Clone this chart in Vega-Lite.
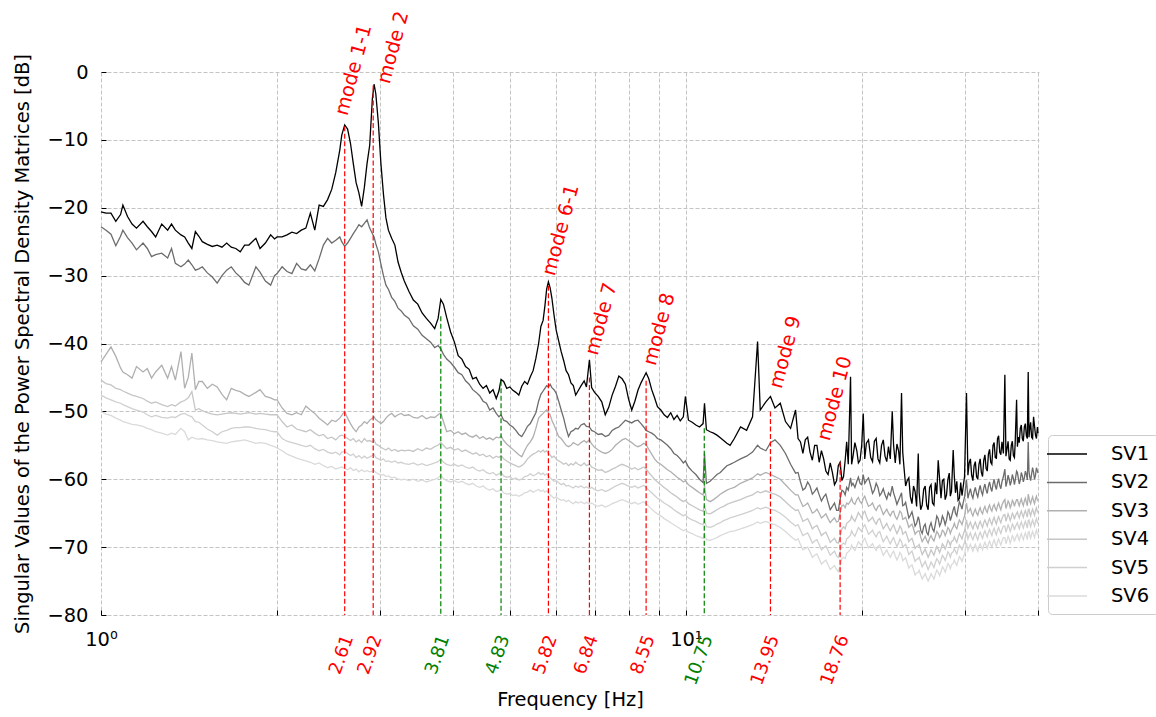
{
"$schema": "https://vega.github.io/schema/vega-lite/v6.json",
"width": 938, "height": 543,
"autosize": {"type": "none"},
"padding": {"left": 101, "top": 72, "right": 117, "bottom": 102},
"background": "white",
"config": {
  "font": "DejaVu Sans",
  "view": {"stroke": null},
  "axis": {"gridColor": "#c4c4c4", "gridDash": [4, 2], "gridWidth": 1, "domain": false, "labelFont": "DejaVu Sans", "labelFontSize": 19.44, "labelColor": "black", "titleFont": "DejaVu Sans", "titleFontSize": 19.44, "titleFontWeight": "normal", "titleColor": "black", "tickColor": "black"}
},
"datasets": {
"sv": [
{"f":1.00,"SV1":-20.6,"SV2":-22.8,"SV3":-42.7,"SV4":-45.4,"SV5":-47.6,"SV6":-50.0},
{"f":1.02,"SV1":-20.8,"SV2":-23.3,"SV3":-41.6,"SV4":-45.9,"SV5":-48.0,"SV6":-50.4},
{"f":1.04,"SV1":-20.8,"SV2":-23.9,"SV3":-40.5,"SV4":-46.1,"SV5":-48.3,"SV6":-50.6},
{"f":1.06,"SV1":-22.0,"SV2":-25.6,"SV3":-41.9,"SV4":-46.6,"SV5":-48.6,"SV6":-51.0},
{"f":1.08,"SV1":-21.0,"SV2":-24.2,"SV3":-43.6,"SV4":-46.8,"SV5":-48.8,"SV6":-51.3},
{"f":1.09,"SV1":-19.6,"SV2":-23.3,"SV3":-44.2,"SV4":-47.0,"SV5":-49.0,"SV6":-51.5},
{"f":1.11,"SV1":-21.3,"SV2":-24.4,"SV3":-44.6,"SV4":-47.3,"SV5":-49.3,"SV6":-51.7},
{"f":1.13,"SV1":-22.4,"SV2":-25.2,"SV3":-45.1,"SV4":-47.6,"SV5":-49.6,"SV6":-51.9},
{"f":1.15,"SV1":-23.0,"SV2":-26.2,"SV3":-43.4,"SV4":-47.8,"SV5":-49.8,"SV6":-52.0},
{"f":1.18,"SV1":-22.0,"SV2":-25.2,"SV3":-44.2,"SV4":-48.1,"SV5":-50.1,"SV6":-52.2},
{"f":1.20,"SV1":-22.8,"SV2":-26.0,"SV3":-43.7,"SV4":-48.5,"SV5":-50.5,"SV6":-52.5},
{"f":1.22,"SV1":-23.5,"SV2":-27.2,"SV3":-45.1,"SV4":-48.8,"SV5":-50.8,"SV6":-52.7},
{"f":1.24,"SV1":-24.3,"SV2":-26.9,"SV3":-44.2,"SV4":-48.6,"SV5":-50.6,"SV6":-53.0},
{"f":1.27,"SV1":-22.4,"SV2":-26.7,"SV3":-43.2,"SV4":-49.0,"SV5":-50.9,"SV6":-53.2},
{"f":1.30,"SV1":-23.3,"SV2":-27.4,"SV3":-45.1,"SV4":-49.3,"SV5":-51.0,"SV6":-53.5},
{"f":1.32,"SV1":-22.4,"SV2":-26.0,"SV3":-43.4,"SV4":-49.0,"SV5":-50.8,"SV6":-53.2},
{"f":1.34,"SV1":-23.3,"SV2":-28.2,"SV3":-45.4,"SV4":-49.2,"SV5":-50.9,"SV6":-53.4},
{"f":1.37,"SV1":-24.0,"SV2":-28.7,"SV3":-41.2,"SV4":-48.6,"SV5":-50.4,"SV6":-52.5},
{"f":1.39,"SV1":-24.3,"SV2":-28.3,"SV3":-46.6,"SV4":-48.4,"SV5":-50.3,"SV6":-53.0},
{"f":1.41,"SV1":-25.2,"SV2":-27.7,"SV3":-45.0,"SV4":-48.0,"SV5":-50.6,"SV6":-54.2},
{"f":1.43,"SV1":-26.0,"SV2":-28.4,"SV3":-41.4,"SV4":-47.1,"SV5":-50.8,"SV6":-53.8},
{"f":1.45,"SV1":-23.5,"SV2":-29.2,"SV3":-46.8,"SV4":-49.8,"SV5":-51.5,"SV6":-54.0},
{"f":1.47,"SV1":-24.2,"SV2":-29.0,"SV3":-45.6,"SV4":-49.6,"SV5":-51.6,"SV6":-54.1},
{"f":1.49,"SV1":-25.0,"SV2":-28.7,"SV3":-45.6,"SV4":-49.9,"SV5":-52.0,"SV6":-54.0},
{"f":1.52,"SV1":-25.4,"SV2":-29.6,"SV3":-46.6,"SV4":-50.2,"SV5":-52.6,"SV6":-54.2},
{"f":1.55,"SV1":-25.7,"SV2":-30.2,"SV3":-46.0,"SV4":-50.4,"SV5":-53.0,"SV6":-54.3},
{"f":1.58,"SV1":-25.5,"SV2":-31.1,"SV3":-46.4,"SV4":-50.5,"SV5":-53.5,"SV6":-54.5},
{"f":1.61,"SV1":-25.8,"SV2":-30.0,"SV3":-47.5,"SV4":-50.4,"SV5":-53.0,"SV6":-54.6},
{"f":1.64,"SV1":-25.2,"SV2":-29.2,"SV3":-48.3,"SV4":-50.3,"SV5":-52.8,"SV6":-54.7},
{"f":1.67,"SV1":-25.8,"SV2":-28.7,"SV3":-46.6,"SV4":-50.2,"SV5":-52.5,"SV6":-54.5},
{"f":1.70,"SV1":-26.0,"SV2":-29.6,"SV3":-46.9,"SV4":-50.3,"SV5":-52.4,"SV6":-54.4},
{"f":1.73,"SV1":-26.5,"SV2":-30.2,"SV3":-47.1,"SV4":-50.4,"SV5":-52.4,"SV6":-54.3},
{"f":1.76,"SV1":-25.5,"SV2":-31.0,"SV3":-47.5,"SV4":-50.3,"SV5":-52.3,"SV6":-54.2},
{"f":1.79,"SV1":-25.5,"SV2":-31.4,"SV3":-47.8,"SV4":-50.2,"SV5":-52.3,"SV6":-54.4},
{"f":1.84,"SV1":-24.5,"SV2":-28.7,"SV3":-47.2,"SV4":-50.4,"SV5":-52.5,"SV6":-54.7},
{"f":1.87,"SV1":-26.0,"SV2":-29.5,"SV3":-46.8,"SV4":-50.3,"SV5":-52.6,"SV6":-54.6},
{"f":1.91,"SV1":-25.2,"SV2":-30.8,"SV3":-47.8,"SV4":-50.4,"SV5":-52.7,"SV6":-54.7},
{"f":1.95,"SV1":-24.0,"SV2":-31.4,"SV3":-48.0,"SV4":-50.5,"SV5":-52.9,"SV6":-55.0},
{"f":1.98,"SV1":-24.6,"SV2":-30.0,"SV3":-48.3,"SV4":-50.5,"SV5":-53.0,"SV6":-55.2},
{"f":2.00,"SV1":-24.3,"SV2":-29.7,"SV3":-48.3,"SV4":-50.5,"SV5":-53.0,"SV6":-55.4},
{"f":2.04,"SV1":-24.3,"SV2":-28.7,"SV3":-49.5,"SV4":-51.5,"SV5":-54.0,"SV6":-55.8},
{"f":2.08,"SV1":-24.0,"SV2":-29.4,"SV3":-50.3,"SV4":-52.3,"SV5":-54.4,"SV6":-56.3},
{"f":2.12,"SV1":-23.6,"SV2":-29.7,"SV3":-50.5,"SV4":-52.0,"SV5":-54.6,"SV6":-56.6},
{"f":2.16,"SV1":-23.8,"SV2":-28.2,"SV3":-50.2,"SV4":-52.6,"SV5":-54.8,"SV6":-56.9},
{"f":2.20,"SV1":-23.3,"SV2":-29.0,"SV3":-50.5,"SV4":-52.8,"SV5":-55.0,"SV6":-57.1},
{"f":2.24,"SV1":-23.0,"SV2":-29.2,"SV3":-49.2,"SV4":-53.0,"SV5":-55.2,"SV6":-57.3},
{"f":2.28,"SV1":-20.8,"SV2":-28.4,"SV3":-49.8,"SV4":-52.7,"SV5":-55.0,"SV6":-57.5},
{"f":2.32,"SV1":-23.3,"SV2":-29.3,"SV3":-50.3,"SV4":-53.2,"SV5":-55.5,"SV6":-57.8},
{"f":2.36,"SV1":-19.6,"SV2":-27.5,"SV3":-51.0,"SV4":-53.6,"SV5":-55.8,"SV6":-57.6},
{"f":2.40,"SV1":-19.8,"SV2":-25.5,"SV3":-51.5,"SV4":-53.4,"SV5":-55.6,"SV6":-58.0},
{"f":2.44,"SV1":-18.8,"SV2":-24.5,"SV3":-52.0,"SV4":-54.0,"SV5":-56.0,"SV6":-58.3},
{"f":2.48,"SV1":-17.3,"SV2":-25.2,"SV3":-51.3,"SV4":-53.8,"SV5":-56.2,"SV6":-58.1},
{"f":2.52,"SV1":-14.8,"SV2":-24.8,"SV3":-51.5,"SV4":-54.2,"SV5":-56.0,"SV6":-58.5},
{"f":2.56,"SV1":-11.5,"SV2":-24.3,"SV3":-51.0,"SV4":-53.6,"SV5":-56.4,"SV6":-58.3},
{"f":2.58,"SV1":-9.3,"SV2":-25.0,"SV3":-50.6,"SV4":-53.5,"SV5":-56.0,"SV6":-58.2},
{"f":2.61,"SV1":-7.8,"SV2":-25.7,"SV3":-50.0,"SV4":-53.7,"SV5":-55.9,"SV6":-58.4},
{"f":2.64,"SV1":-8.4,"SV2":-25.2,"SV3":-51.0,"SV4":-54.0,"SV5":-56.2,"SV6":-58.6},
{"f":2.67,"SV1":-10.5,"SV2":-24.5,"SV3":-51.8,"SV4":-54.3,"SV5":-56.5,"SV6":-58.3},
{"f":2.70,"SV1":-13.5,"SV2":-23.8,"SV3":-52.5,"SV4":-54.0,"SV5":-56.3,"SV6":-58.7},
{"f":2.73,"SV1":-16.3,"SV2":-23.2,"SV3":-53.0,"SV4":-54.5,"SV5":-56.8,"SV6":-58.5},
{"f":2.76,"SV1":-17.8,"SV2":-22.5,"SV3":-52.3,"SV4":-54.2,"SV5":-56.5,"SV6":-58.9},
{"f":2.79,"SV1":-19.8,"SV2":-22.8,"SV3":-52.0,"SV4":-54.6,"SV5":-56.9,"SV6":-58.6},
{"f":2.82,"SV1":-17.0,"SV2":-22.3,"SV3":-51.5,"SV4":-54.0,"SV5":-56.6,"SV6":-58.9},
{"f":2.85,"SV1":-13.5,"SV2":-21.8,"SV3":-51.8,"SV4":-54.4,"SV5":-56.9,"SV6":-58.7},
{"f":2.88,"SV1":-10.8,"SV2":-23.0,"SV3":-51.3,"SV4":-54.3,"SV5":-56.7,"SV6":-58.9},
{"f":2.91,"SV1":-4.0,"SV2":-23.8,"SV3":-51.0,"SV4":-54.5,"SV5":-56.5,"SV6":-58.8},
{"f":2.93,"SV1":-1.8,"SV2":-24.3,"SV3":-50.8,"SV4":-54.2,"SV5":-56.3,"SV6":-58.7},
{"f":2.95,"SV1":-3.2,"SV2":-25.3,"SV3":-51.2,"SV4":-54.8,"SV5":-56.8,"SV6":-59.0},
{"f":2.98,"SV1":-7.5,"SV2":-26.5,"SV3":-51.5,"SV4":-55.0,"SV5":-57.0,"SV6":-59.2},
{"f":3.01,"SV1":-13.5,"SV2":-28.3,"SV3":-51.8,"SV4":-55.3,"SV5":-57.2,"SV6":-59.4},
{"f":3.04,"SV1":-18.0,"SV2":-30.0,"SV3":-51.5,"SV4":-55.5,"SV5":-57.0,"SV6":-59.3},
{"f":3.07,"SV1":-21.5,"SV2":-31.4,"SV3":-51.0,"SV4":-55.7,"SV5":-57.4,"SV6":-59.6},
{"f":3.10,"SV1":-23.3,"SV2":-32.0,"SV3":-50.6,"SV4":-55.4,"SV5":-57.3,"SV6":-59.5},
{"f":3.14,"SV1":-24.5,"SV2":-33.2,"SV3":-50.3,"SV4":-55.8,"SV5":-57.5,"SV6":-59.8},
{"f":3.18,"SV1":-25.5,"SV2":-33.8,"SV3":-50.8,"SV4":-55.6,"SV5":-57.3,"SV6":-59.7},
{"f":3.22,"SV1":-28.0,"SV2":-34.8,"SV3":-50.5,"SV4":-55.9,"SV5":-57.6,"SV6":-60.0},
{"f":3.26,"SV1":-29.5,"SV2":-35.2,"SV3":-50.3,"SV4":-55.7,"SV5":-57.5,"SV6":-60.1},
{"f":3.30,"SV1":-30.8,"SV2":-35.8,"SV3":-50.6,"SV4":-55.8,"SV5":-57.7,"SV6":-60.0},
{"f":3.36,"SV1":-32.3,"SV2":-36.3,"SV3":-50.5,"SV4":-55.7,"SV5":-57.8,"SV6":-60.2},
{"f":3.42,"SV1":-33.6,"SV2":-37.4,"SV3":-50.9,"SV4":-55.9,"SV5":-57.6,"SV6":-60.0},
{"f":3.48,"SV1":-34.2,"SV2":-37.9,"SV3":-51.0,"SV4":-55.5,"SV5":-57.9,"SV6":-60.3},
{"f":3.54,"SV1":-35.5,"SV2":-38.8,"SV3":-50.6,"SV4":-55.8,"SV5":-57.7,"SV6":-60.1},
{"f":3.60,"SV1":-36.3,"SV2":-39.3,"SV3":-51.1,"SV4":-55.4,"SV5":-58.0,"SV6":-60.4},
{"f":3.66,"SV1":-37.0,"SV2":-39.8,"SV3":-50.8,"SV4":-55.6,"SV5":-57.8,"SV6":-60.2},
{"f":3.72,"SV1":-37.8,"SV2":-40.6,"SV3":-50.9,"SV4":-55.2,"SV5":-57.6,"SV6":-60.0},
{"f":3.77,"SV1":-36.3,"SV2":-40.3,"SV3":-50.5,"SV4":-55.0,"SV5":-57.4,"SV6":-59.8},
{"f":3.81,"SV1":-33.5,"SV2":-40.8,"SV3":-50.2,"SV4":-54.6,"SV5":-57.0,"SV6":-59.4},
{"f":3.85,"SV1":-34.2,"SV2":-41.6,"SV3":-51.5,"SV4":-55.0,"SV5":-57.5,"SV6":-59.9},
{"f":3.90,"SV1":-36.2,"SV2":-42.3,"SV3":-53.0,"SV4":-55.5,"SV5":-57.8,"SV6":-60.2},
{"f":3.96,"SV1":-38.3,"SV2":-42.8,"SV3":-52.8,"SV4":-55.3,"SV5":-58.0,"SV6":-60.4},
{"f":4.02,"SV1":-39.8,"SV2":-43.5,"SV3":-53.3,"SV4":-55.7,"SV5":-57.8,"SV6":-60.2},
{"f":4.08,"SV1":-41.8,"SV2":-44.3,"SV3":-53.0,"SV4":-55.5,"SV5":-58.1,"SV6":-60.5},
{"f":4.14,"SV1":-42.3,"SV2":-44.6,"SV3":-53.4,"SV4":-55.9,"SV5":-57.9,"SV6":-60.3},
{"f":4.20,"SV1":-43.4,"SV2":-45.5,"SV3":-53.2,"SV4":-55.7,"SV5":-58.2,"SV6":-60.6},
{"f":4.26,"SV1":-43.8,"SV2":-46.0,"SV3":-53.6,"SV4":-56.0,"SV5":-58.4,"SV6":-60.8},
{"f":4.32,"SV1":-45.2,"SV2":-46.8,"SV3":-53.8,"SV4":-56.3,"SV5":-58.2,"SV6":-60.6},
{"f":4.38,"SV1":-45.0,"SV2":-47.2,"SV3":-53.5,"SV4":-56.1,"SV5":-58.6,"SV6":-61.0},
{"f":4.44,"SV1":-46.0,"SV2":-47.7,"SV3":-54.0,"SV4":-56.5,"SV5":-58.8,"SV6":-61.2},
{"f":4.50,"SV1":-46.6,"SV2":-48.5,"SV3":-53.7,"SV4":-56.3,"SV5":-58.6,"SV6":-61.0},
{"f":4.56,"SV1":-46.2,"SV2":-48.8,"SV3":-54.1,"SV4":-56.7,"SV5":-59.0,"SV6":-61.4},
{"f":4.62,"SV1":-47.3,"SV2":-49.8,"SV3":-53.9,"SV4":-56.5,"SV5":-59.2,"SV6":-61.6},
{"f":4.68,"SV1":-46.8,"SV2":-49.5,"SV3":-54.2,"SV4":-56.9,"SV5":-59.0,"SV6":-61.4},
{"f":4.74,"SV1":-48.1,"SV2":-50.3,"SV3":-53.8,"SV4":-56.6,"SV5":-59.4,"SV6":-61.8},
{"f":4.79,"SV1":-47.0,"SV2":-50.8,"SV3":-53.9,"SV4":-56.8,"SV5":-59.2,"SV6":-61.7},
{"f":4.83,"SV1":-45.3,"SV2":-50.5,"SV3":-53.6,"SV4":-56.5,"SV5":-59.0,"SV6":-61.5},
{"f":4.88,"SV1":-45.6,"SV2":-51.3,"SV3":-54.3,"SV4":-57.0,"SV5":-59.5,"SV6":-62.0},
{"f":4.94,"SV1":-46.6,"SV2":-51.5,"SV3":-54.8,"SV4":-57.3,"SV5":-59.7,"SV6":-62.2},
{"f":5.00,"SV1":-46.4,"SV2":-52.0,"SV3":-55.2,"SV4":-57.6,"SV5":-59.6,"SV6":-62.1},
{"f":5.06,"SV1":-46.9,"SV2":-52.3,"SV3":-55.6,"SV4":-57.8,"SV5":-60.0,"SV6":-62.4},
{"f":5.12,"SV1":-47.2,"SV2":-52.8,"SV3":-56.0,"SV4":-58.0,"SV5":-59.8,"SV6":-62.3},
{"f":5.18,"SV1":-47.6,"SV2":-53.4,"SV3":-56.4,"SV4":-58.2,"SV5":-60.1,"SV6":-62.5},
{"f":5.24,"SV1":-46.3,"SV2":-53.7,"SV3":-56.7,"SV4":-58.0,"SV5":-60.0,"SV6":-62.3},
{"f":5.30,"SV1":-45.6,"SV2":-53.0,"SV3":-55.8,"SV4":-57.6,"SV5":-59.6,"SV6":-62.0},
{"f":5.36,"SV1":-46.0,"SV2":-52.2,"SV3":-55.0,"SV4":-57.0,"SV5":-59.5,"SV6":-61.9},
{"f":5.42,"SV1":-44.9,"SV2":-51.8,"SV3":-54.5,"SV4":-56.6,"SV5":-59.2,"SV6":-61.6},
{"f":5.48,"SV1":-44.0,"SV2":-51.0,"SV3":-53.8,"SV4":-56.3,"SV5":-59.5,"SV6":-61.9},
{"f":5.54,"SV1":-42.2,"SV2":-50.2,"SV3":-52.5,"SV4":-56.1,"SV5":-59.3,"SV6":-61.7},
{"f":5.60,"SV1":-40.0,"SV2":-48.5,"SV3":-51.0,"SV4":-55.8,"SV5":-59.0,"SV6":-61.5},
{"f":5.65,"SV1":-37.5,"SV2":-47.5,"SV3":-50.6,"SV4":-56.0,"SV5":-59.3,"SV6":-61.8},
{"f":5.70,"SV1":-36.6,"SV2":-47.0,"SV3":-50.3,"SV4":-55.7,"SV5":-59.1,"SV6":-61.6},
{"f":5.74,"SV1":-34.5,"SV2":-46.6,"SV3":-50.0,"SV4":-56.0,"SV5":-59.4,"SV6":-61.9},
{"f":5.78,"SV1":-32.0,"SV2":-46.2,"SV3":-49.8,"SV4":-55.8,"SV5":-59.2,"SV6":-61.7},
{"f":5.82,"SV1":-30.9,"SV2":-46.4,"SV3":-50.2,"SV4":-56.2,"SV5":-59.5,"SV6":-62.0},
{"f":5.86,"SV1":-31.8,"SV2":-46.0,"SV3":-50.5,"SV4":-56.4,"SV5":-59.8,"SV6":-62.3},
{"f":5.90,"SV1":-33.3,"SV2":-46.5,"SV3":-51.3,"SV4":-56.8,"SV5":-60.0,"SV6":-62.5},
{"f":5.95,"SV1":-35.8,"SV2":-46.8,"SV3":-52.0,"SV4":-56.6,"SV5":-60.3,"SV6":-62.8},
{"f":6.00,"SV1":-38.0,"SV2":-47.3,"SV3":-52.8,"SV4":-57.0,"SV5":-60.2,"SV6":-62.6},
{"f":6.06,"SV1":-39.6,"SV2":-48.5,"SV3":-53.7,"SV4":-57.3,"SV5":-60.5,"SV6":-62.9},
{"f":6.12,"SV1":-41.2,"SV2":-49.8,"SV3":-54.0,"SV4":-57.5,"SV5":-60.8,"SV6":-63.1},
{"f":6.18,"SV1":-42.5,"SV2":-51.0,"SV3":-54.5,"SV4":-57.8,"SV5":-60.6,"SV6":-63.0},
{"f":6.24,"SV1":-44.0,"SV2":-52.5,"SV3":-55.0,"SV4":-57.6,"SV5":-61.0,"SV6":-63.3},
{"f":6.30,"SV1":-44.6,"SV2":-53.7,"SV3":-55.2,"SV4":-58.0,"SV5":-60.9,"SV6":-63.1},
{"f":6.36,"SV1":-45.8,"SV2":-53.0,"SV3":-55.0,"SV4":-57.7,"SV5":-61.1,"SV6":-63.4},
{"f":6.42,"SV1":-46.2,"SV2":-52.8,"SV3":-54.6,"SV4":-57.9,"SV5":-61.3,"SV6":-63.6},
{"f":6.48,"SV1":-47.6,"SV2":-52.5,"SV3":-54.8,"SV4":-57.5,"SV5":-61.0,"SV6":-63.3},
{"f":6.54,"SV1":-47.0,"SV2":-52.6,"SV3":-55.0,"SV4":-57.8,"SV5":-61.2,"SV6":-63.5},
{"f":6.62,"SV1":-46.2,"SV2":-52.0,"SV3":-54.6,"SV4":-58.0,"SV5":-61.0,"SV6":-63.3},
{"f":6.70,"SV1":-45.5,"SV2":-51.8,"SV3":-54.3,"SV4":-57.6,"SV5":-61.3,"SV6":-63.6},
{"f":6.76,"SV1":-46.4,"SV2":-52.2,"SV3":-54.6,"SV4":-58.0,"SV5":-61.1,"SV6":-63.4},
{"f":6.84,"SV1":-42.4,"SV2":-52.3,"SV3":-54.2,"SV4":-57.8,"SV5":-61.4,"SV6":-63.7},
{"f":6.90,"SV1":-46.5,"SV2":-52.8,"SV3":-54.8,"SV4":-58.2,"SV5":-61.2,"SV6":-63.5},
{"f":6.98,"SV1":-47.2,"SV2":-53.0,"SV3":-55.3,"SV4":-58.4,"SV5":-61.5,"SV6":-63.8},
{"f":7.08,"SV1":-47.8,"SV2":-53.4,"SV3":-55.7,"SV4":-58.7,"SV5":-61.7,"SV6":-64.0},
{"f":7.18,"SV1":-48.6,"SV2":-53.3,"SV3":-56.0,"SV4":-58.6,"SV5":-61.5,"SV6":-63.8},
{"f":7.28,"SV1":-50.5,"SV2":-53.7,"SV3":-56.2,"SV4":-59.0,"SV5":-61.8,"SV6":-64.1},
{"f":7.38,"SV1":-49.4,"SV2":-53.5,"SV3":-56.0,"SV4":-58.8,"SV5":-61.6,"SV6":-63.9},
{"f":7.48,"SV1":-47.6,"SV2":-52.8,"SV3":-55.6,"SV4":-58.5,"SV5":-61.3,"SV6":-63.6},
{"f":7.58,"SV1":-46.3,"SV2":-52.5,"SV3":-55.0,"SV4":-58.3,"SV5":-61.0,"SV6":-63.4},
{"f":7.68,"SV1":-44.8,"SV2":-52.3,"SV3":-54.6,"SV4":-58.0,"SV5":-60.8,"SV6":-63.2},
{"f":7.78,"SV1":-45.2,"SV2":-51.8,"SV3":-54.2,"SV4":-57.8,"SV5":-60.6,"SV6":-63.0},
{"f":7.88,"SV1":-46.0,"SV2":-51.3,"SV3":-54.0,"SV4":-58.0,"SV5":-60.8,"SV6":-63.2},
{"f":7.98,"SV1":-48.2,"SV2":-51.5,"SV3":-54.3,"SV4":-58.2,"SV5":-61.0,"SV6":-63.4},
{"f":8.08,"SV1":-49.8,"SV2":-51.7,"SV3":-54.6,"SV4":-58.5,"SV5":-61.2,"SV6":-63.6},
{"f":8.18,"SV1":-48.5,"SV2":-51.4,"SV3":-55.0,"SV4":-58.3,"SV5":-61.0,"SV6":-63.4},
{"f":8.28,"SV1":-46.9,"SV2":-51.3,"SV3":-55.2,"SV4":-58.6,"SV5":-61.3,"SV6":-63.7},
{"f":8.38,"SV1":-45.8,"SV2":-51.8,"SV3":-55.0,"SV4":-58.4,"SV5":-61.1,"SV6":-63.5},
{"f":8.47,"SV1":-45.0,"SV2":-52.3,"SV3":-54.7,"SV4":-58.2,"SV5":-60.9,"SV6":-63.3},
{"f":8.55,"SV1":-44.3,"SV2":-52.8,"SV3":-54.9,"SV4":-58.5,"SV5":-61.2,"SV6":-63.6},
{"f":8.64,"SV1":-45.2,"SV2":-53.0,"SV3":-55.6,"SV4":-59.0,"SV5":-61.6,"SV6":-64.0},
{"f":8.74,"SV1":-46.8,"SV2":-53.2,"SV3":-56.3,"SV4":-59.5,"SV5":-62.0,"SV6":-64.4},
{"f":8.84,"SV1":-48.0,"SV2":-53.5,"SV3":-57.0,"SV4":-60.0,"SV5":-62.4,"SV6":-64.8},
{"f":8.94,"SV1":-49.3,"SV2":-54.0,"SV3":-57.5,"SV4":-60.4,"SV5":-62.8,"SV6":-65.1},
{"f":9.06,"SV1":-49.8,"SV2":-54.2,"SV3":-57.8,"SV4":-60.8,"SV5":-63.1,"SV6":-65.4},
{"f":9.18,"SV1":-50.5,"SV2":-54.6,"SV3":-58.2,"SV4":-61.2,"SV5":-63.5,"SV6":-65.8},
{"f":9.30,"SV1":-50.9,"SV2":-55.0,"SV3":-58.6,"SV4":-61.6,"SV5":-63.8,"SV6":-66.1},
{"f":9.42,"SV1":-50.2,"SV2":-55.5,"SV3":-58.9,"SV4":-62.0,"SV5":-64.1,"SV6":-66.4},
{"f":9.54,"SV1":-51.2,"SV2":-56.2,"SV3":-59.3,"SV4":-62.3,"SV5":-64.5,"SV6":-66.7},
{"f":9.66,"SV1":-50.6,"SV2":-56.5,"SV3":-59.7,"SV4":-62.6,"SV5":-64.8,"SV6":-67.0},
{"f":9.78,"SV1":-51.4,"SV2":-57.0,"SV3":-60.0,"SV4":-63.0,"SV5":-65.1,"SV6":-67.3},
{"f":9.90,"SV1":-50.8,"SV2":-57.6,"SV3":-60.4,"SV4":-63.3,"SV5":-65.4,"SV6":-67.6},
{"f":9.98,"SV1":-47.8,"SV2":-57.3,"SV3":-60.2,"SV4":-63.1,"SV5":-65.2,"SV6":-67.4},
{"f":10.10,"SV1":-51.3,"SV2":-58.2,"SV3":-60.8,"SV4":-63.6,"SV5":-65.7,"SV6":-67.8},
{"f":10.25,"SV1":-51.6,"SV2":-58.8,"SV3":-61.2,"SV4":-63.9,"SV5":-66.0,"SV6":-68.0},
{"f":10.40,"SV1":-52.0,"SV2":-59.3,"SV3":-61.6,"SV4":-64.2,"SV5":-66.2,"SV6":-68.3},
{"f":10.55,"SV1":-52.3,"SV2":-60.0,"SV3":-62.0,"SV4":-64.5,"SV5":-66.5,"SV6":-68.5},
{"f":10.70,"SV1":-51.8,"SV2":-60.5,"SV3":-62.3,"SV4":-64.7,"SV5":-66.7,"SV6":-68.7},
{"f":10.76,"SV1":-48.8,"SV2":-56.2,"SV3":-61.0,"SV4":-63.8,"SV5":-66.0,"SV6":-68.0},
{"f":10.84,"SV1":-52.7,"SV2":-60.6,"SV3":-63.0,"SV4":-65.0,"SV5":-67.0,"SV6":-68.9},
{"f":11.00,"SV1":-53.0,"SV2":-60.3,"SV3":-63.3,"SV4":-65.1,"SV5":-67.1,"SV6":-69.0},
{"f":11.15,"SV1":-53.2,"SV2":-59.8,"SV3":-63.0,"SV4":-64.8,"SV5":-66.9,"SV6":-68.8},
{"f":11.30,"SV1":-53.5,"SV2":-59.3,"SV3":-62.6,"SV4":-64.5,"SV5":-66.6,"SV6":-68.6},
{"f":11.45,"SV1":-53.9,"SV2":-59.0,"SV3":-62.2,"SV4":-64.2,"SV5":-66.4,"SV6":-68.3},
{"f":11.60,"SV1":-54.3,"SV2":-58.5,"SV3":-61.9,"SV4":-64.0,"SV5":-66.1,"SV6":-68.1},
{"f":11.75,"SV1":-54.7,"SV2":-58.0,"SV3":-61.6,"SV4":-63.7,"SV5":-65.9,"SV6":-67.9},
{"f":11.90,"SV1":-55.0,"SV2":-57.8,"SV3":-61.4,"SV4":-63.5,"SV5":-65.7,"SV6":-67.7},
{"f":12.1,"SV1":-54.0,"SV2":-57.5,"SV3":-61.2,"SV4":-63.3,"SV5":-65.5,"SV6":-67.6},
{"f":12.4,"SV1":-52.3,"SV2":-57.0,"SV3":-60.6,"SV4":-63.0,"SV5":-65.2,"SV6":-67.3},
{"f":12.7,"SV1":-52.8,"SV2":-56.6,"SV3":-60.2,"SV4":-62.6,"SV5":-64.9,"SV6":-67.0},
{"f":13.0,"SV1":-50.8,"SV2":-56.0,"SV3":-59.8,"SV4":-62.3,"SV5":-64.6,"SV6":-66.7},
{"f":13.26,"SV1":-39.7,"SV2":-55.0,"SV3":-59.2,"SV4":-61.8,"SV5":-64.2,"SV6":-66.3},
{"f":13.4,"SV1":-49.8,"SV2":-55.4,"SV3":-59.4,"SV4":-62.0,"SV5":-64.4,"SV6":-66.5},
{"f":13.7,"SV1":-48.6,"SV2":-55.8,"SV3":-59.0,"SV4":-61.7,"SV5":-64.1,"SV6":-66.2},
{"f":13.95,"SV1":-47.8,"SV2":-54.6,"SV3":-59.3,"SV4":-62.0,"SV5":-64.4,"SV6":-66.5},
{"f":14.2,"SV1":-49.5,"SV2":-54.2,"SV3":-59.6,"SV4":-62.2,"SV5":-64.6,"SV6":-66.7},
{"f":14.5,"SV1":-48.8,"SV2":-55.0,"SV3":-60.0,"SV4":-62.6,"SV5":-65.0,"SV6":-67.1},
{"f":14.8,"SV1":-51.5,"SV2":-56.2,"SV3":-60.8,"SV4":-63.3,"SV5":-65.6,"SV6":-67.7},
{"f":15.1,"SV1":-52.5,"SV2":-57.8,"SV3":-61.6,"SV4":-64.0,"SV5":-66.3,"SV6":-68.4},
{"f":15.4,"SV1":-49.8,"SV2":-59.1,"SV3":-62.3,"SV4":-64.6,"SV5":-66.9,"SV6":-69.0},
{"f":15.7,"SV1":-54.5,"SV2":-60.4,"SV3":-63.2,"SV4":-65.3,"SV5":-67.5,"SV6":-69.6},
{"f":16.0,"SV1":-54.2,"SV2":-61.3,"SV3":-63.8,"SV4":-66.0,"SV5":-68.1,"SV6":-70.2},
{"f":16.3,"SV1":-56.0,"SV2":-61.0,"SV3":-64.2,"SV4":-66.5,"SV5":-68.6,"SV6":-70.7},
{"f":16.6,"SV1":-55.0,"SV2":-61.8,"SV3":-64.8,"SV4":-67.0,"SV5":-69.1,"SV6":-71.2},
{"f":16.9,"SV1":-57.5,"SV2":-62.3,"SV3":-65.0,"SV4":-67.5,"SV5":-69.6,"SV6":-71.7},
{"f":17.2,"SV1":-57.0,"SV2":-62.6,"SV3":-65.4,"SV4":-68.0,"SV5":-70.1,"SV6":-72.2},
{"f":17.5,"SV1":-59.3,"SV2":-63.4,"SV3":-65.8,"SV4":-68.5,"SV5":-70.5,"SV6":-72.6},
{"f":17.8,"SV1":-59.0,"SV2":-64.0,"SV3":-66.0,"SV4":-69.0,"SV5":-70.9,"SV6":-73.0},
{"f":18.1,"SV1":-60.2,"SV2":-64.6,"SV3":-66.3,"SV4":-69.3,"SV5":-71.3,"SV6":-73.3},
{"f":18.35,"SV1":-57.5,"SV2":-63.0,"SV3":-65.0,"SV4":-68.5,"SV5":-70.7,"SV6":-72.8},
{"f":18.6,"SV1":-59.6,"SV2":-61.8,"SV3":-63.8,"SV4":-67.0,"SV5":-69.4,"SV6":-71.5},
{"f":18.83,"SV1":-54.5,"SV2":-61.2,"SV3":-63.5,"SV4":-66.5,"SV5":-68.8,"SV6":-70.9},
{"f":18.95,"SV1":-57.8,"SV2":-61.6,"SV3":-63.7,"SV4":-66.3,"SV5":-68.6,"SV6":-70.7},
{"f":19.12,"SV1":-44.9,"SV2":-59.8,"SV3":-63.2,"SV4":-66.0,"SV5":-68.2,"SV6":-70.3},
{"f":19.3,"SV1":-56.7,"SV2":-60.6,"SV3":-63.4,"SV4":-65.8,"SV5":-68.0,"SV6":-70.1},
{"f":19.6,"SV1":-55.8,"SV2":-60.3,"SV3":-63.0,"SV4":-65.5,"SV5":-67.7,"SV6":-69.8},
{"f":19.85,"SV1":-57.2,"SV2":-60.6,"SV3":-63.3,"SV4":-65.3,"SV5":-67.4,"SV6":-69.5},
{"f":20.1,"SV1":-50.3,"SV2":-59.3,"SV3":-62.8,"SV4":-65.0,"SV5":-67.0,"SV6":-69.0},
{"f":20.35,"SV1":-54.7,"SV2":-60.2,"SV3":-63.2,"SV4":-65.4,"SV5":-67.3,"SV6":-69.3},
{"f":20.7,"SV1":-56.8,"SV2":-61.0,"SV3":-63.8,"SV4":-65.9,"SV5":-67.8,"SV6":-69.8},
{"f":21.0,"SV1":-54.4,"SV2":-61.6,"SV3":-64.2,"SV4":-66.2,"SV5":-68.1,"SV6":-70.1},
{"f":21.3,"SV1":-57.0,"SV2":-61.2,"SV3":-64.0,"SV4":-66.0,"SV5":-67.9,"SV6":-69.9},
{"f":21.6,"SV1":-55.0,"SV2":-62.0,"SV3":-64.5,"SV4":-66.6,"SV5":-68.5,"SV6":-70.5},
{"f":21.9,"SV1":-56.6,"SV2":-62.3,"SV3":-64.8,"SV4":-66.9,"SV5":-68.8,"SV6":-70.8},
{"f":22.2,"SV1":-55.2,"SV2":-62.0,"SV3":-65.0,"SV4":-67.1,"SV5":-69.0,"SV6":-71.0},
{"f":22.53,"SV1":-50.0,"SV2":-61.0,"SV3":-64.8,"SV4":-67.0,"SV5":-68.9,"SV6":-70.9},
{"f":22.8,"SV1":-57.6,"SV2":-62.8,"SV3":-65.5,"SV4":-67.4,"SV5":-69.3,"SV6":-71.3},
{"f":23.1,"SV1":-55.8,"SV2":-63.1,"SV3":-65.3,"SV4":-67.5,"SV5":-69.4,"SV6":-71.4},
{"f":23.37,"SV1":-47.3,"SV2":-62.0,"SV3":-65.0,"SV4":-67.3,"SV5":-69.2,"SV6":-71.2},
{"f":23.6,"SV1":-58.3,"SV2":-63.8,"SV3":-65.8,"SV4":-67.9,"SV5":-69.8,"SV6":-71.8},
{"f":23.9,"SV1":-60.2,"SV2":-64.6,"SV3":-66.3,"SV4":-68.4,"SV5":-70.3,"SV6":-72.3},
{"f":24.2,"SV1":-62.6,"SV2":-65.3,"SV3":-66.8,"SV4":-68.9,"SV5":-70.8,"SV6":-72.8},
{"f":24.5,"SV1":-61.0,"SV2":-65.8,"SV3":-67.3,"SV4":-69.4,"SV5":-71.3,"SV6":-73.3},
{"f":24.8,"SV1":-64.0,"SV2":-66.5,"SV3":-67.8,"SV4":-69.9,"SV5":-71.8,"SV6":-73.8},
{"f":24.96,"SV1":-56.2,"SV2":-65.5,"SV3":-67.6,"SV4":-69.8,"SV5":-71.7,"SV6":-73.7},
{"f":25.2,"SV1":-64.5,"SV2":-67.5,"SV3":-68.5,"SV4":-70.4,"SV5":-72.2,"SV6":-74.1},
{"f":25.5,"SV1":-61.5,"SV2":-67.0,"SV3":-68.8,"SV4":-70.7,"SV5":-72.5,"SV6":-74.3},
{"f":25.8,"SV1":-63.8,"SV2":-67.8,"SV3":-69.0,"SV4":-70.9,"SV5":-72.7,"SV6":-74.5},
{"f":26.1,"SV1":-61.2,"SV2":-67.0,"SV3":-68.7,"SV4":-71.0,"SV5":-72.8,"SV6":-74.5},
{"f":26.4,"SV1":-63.5,"SV2":-67.3,"SV3":-68.8,"SV4":-70.8,"SV5":-72.6,"SV6":-74.3},
{"f":26.7,"SV1":-60.5,"SV2":-66.6,"SV3":-68.4,"SV4":-70.5,"SV5":-72.3,"SV6":-74.0},
{"f":27.0,"SV1":-57.2,"SV2":-65.8,"SV3":-68.0,"SV4":-70.3,"SV5":-72.0,"SV6":-73.7},
{"f":27.3,"SV1":-62.8,"SV2":-66.4,"SV3":-68.2,"SV4":-70.2,"SV5":-71.9,"SV6":-73.6},
{"f":27.6,"SV1":-60.0,"SV2":-65.9,"SV3":-67.7,"SV4":-69.8,"SV5":-71.5,"SV6":-73.2},
{"f":27.9,"SV1":-62.3,"SV2":-66.0,"SV3":-67.8,"SV4":-69.7,"SV5":-71.4,"SV6":-73.1},
{"f":28.2,"SV1":-59.1,"SV2":-65.2,"SV3":-67.4,"SV4":-69.3,"SV5":-71.0,"SV6":-72.7},
{"f":28.45,"SV1":-61.8,"SV2":-65.5,"SV3":-67.5,"SV4":-69.2,"SV5":-70.9,"SV6":-72.6},
{"f":28.64,"SV1":-55.7,"SV2":-64.5,"SV3":-67.0,"SV4":-69.0,"SV5":-70.7,"SV6":-72.4},
{"f":28.9,"SV1":-62.0,"SV2":-65.0,"SV3":-67.0,"SV4":-68.9,"SV5":-70.6,"SV6":-72.3},
{"f":29.2,"SV1":-63.1,"SV2":-64.3,"SV3":-66.6,"SV4":-68.6,"SV5":-70.3,"SV6":-72.0},
{"f":29.5,"SV1":-60.5,"SV2":-63.8,"SV3":-66.3,"SV4":-68.4,"SV5":-70.0,"SV6":-71.7},
{"f":29.8,"SV1":-61.0,"SV2":-63.4,"SV3":-66.0,"SV4":-68.1,"SV5":-69.8,"SV6":-71.5},
{"f":30.18,"SV1":-47.3,"SV2":-60.1,"SV3":-63.5,"SV4":-66.0,"SV5":-67.7,"SV6":-69.4},
{"f":30.5,"SV1":-57.6,"SV2":-62.0,"SV3":-64.6,"SV4":-66.7,"SV5":-68.3,"SV6":-70.0},
{"f":30.8,"SV1":-59.4,"SV2":-62.3,"SV3":-65.0,"SV4":-66.9,"SV5":-68.5,"SV6":-70.2},
{"f":31.1,"SV1":-58.0,"SV2":-61.8,"SV3":-64.8,"SV4":-66.7,"SV5":-68.3,"SV6":-70.0},
{"f":31.4,"SV1":-59.6,"SV2":-62.1,"SV3":-65.0,"SV4":-66.9,"SV5":-68.5,"SV6":-70.2},
{"f":31.7,"SV1":-57.8,"SV2":-61.6,"SV3":-64.6,"SV4":-66.6,"SV5":-68.2,"SV6":-69.9},
{"f":32.0,"SV1":-59.0,"SV2":-61.8,"SV3":-64.8,"SV4":-66.7,"SV5":-68.3,"SV6":-70.0},
{"f":32.3,"SV1":-57.2,"SV2":-61.3,"SV3":-64.4,"SV4":-66.4,"SV5":-68.0,"SV6":-69.7},
{"f":32.6,"SV1":-58.4,"SV2":-61.6,"SV3":-64.6,"SV4":-66.5,"SV5":-68.1,"SV6":-69.8},
{"f":32.9,"SV1":-56.3,"SV2":-61.0,"SV3":-64.2,"SV4":-66.2,"SV5":-67.8,"SV6":-69.5},
{"f":33.2,"SV1":-57.5,"SV2":-61.3,"SV3":-64.4,"SV4":-66.3,"SV5":-67.9,"SV6":-69.6},
{"f":33.5,"SV1":-55.0,"SV2":-60.7,"SV3":-64.0,"SV4":-66.0,"SV5":-67.6,"SV6":-69.3},
{"f":33.8,"SV1":-56.8,"SV2":-61.0,"SV3":-64.3,"SV4":-66.2,"SV5":-67.8,"SV6":-69.5},
{"f":34.1,"SV1":-54.0,"SV2":-60.5,"SV3":-63.9,"SV4":-65.9,"SV5":-67.5,"SV6":-69.2},
{"f":34.4,"SV1":-56.0,"SV2":-60.9,"SV3":-64.1,"SV4":-66.0,"SV5":-67.6,"SV6":-69.3},
{"f":34.7,"SV1":-54.5,"SV2":-60.4,"SV3":-63.8,"SV4":-65.8,"SV5":-67.4,"SV6":-69.1},
{"f":35.1,"SV1":-44.6,"SV2":-58.5,"SV3":-63.0,"SV4":-65.2,"SV5":-66.9,"SV6":-68.6},
{"f":35.4,"SV1":-55.5,"SV2":-60.4,"SV3":-63.8,"SV4":-65.7,"SV5":-67.3,"SV6":-69.0},
{"f":35.7,"SV1":-57.0,"SV2":-60.0,"SV3":-63.5,"SV4":-65.5,"SV5":-67.1,"SV6":-68.8},
{"f":36.0,"SV1":-55.0,"SV2":-60.3,"SV3":-63.8,"SV4":-65.6,"SV5":-67.2,"SV6":-68.9},
{"f":36.3,"SV1":-56.5,"SV2":-59.9,"SV3":-63.4,"SV4":-65.3,"SV5":-66.9,"SV6":-68.6},
{"f":36.55,"SV1":-54.8,"SV2":-60.2,"SV3":-63.6,"SV4":-65.5,"SV5":-67.1,"SV6":-68.8},
{"f":36.76,"SV1":-48.3,"SV2":-58.8,"SV3":-63.0,"SV4":-65.0,"SV5":-66.6,"SV6":-68.3},
{"f":37.0,"SV1":-53.8,"SV2":-59.8,"SV3":-63.5,"SV4":-65.3,"SV5":-66.9,"SV6":-68.6},
{"f":37.3,"SV1":-52.5,"SV2":-60.1,"SV3":-63.3,"SV4":-65.1,"SV5":-66.7,"SV6":-68.4},
{"f":37.6,"SV1":-54.0,"SV2":-59.5,"SV3":-63.5,"SV4":-65.2,"SV5":-66.8,"SV6":-68.5},
{"f":37.9,"SV1":-52.3,"SV2":-59.8,"SV3":-63.2,"SV4":-65.0,"SV5":-66.6,"SV6":-68.3},
{"f":38.2,"SV1":-53.6,"SV2":-59.3,"SV3":-63.4,"SV4":-65.1,"SV5":-66.7,"SV6":-68.4},
{"f":38.48,"SV1":-44.2,"SV2":-54.5,"SV3":-62.2,"SV4":-64.5,"SV5":-66.1,"SV6":-67.8},
{"f":38.7,"SV1":-52.7,"SV2":-59.6,"SV3":-63.2,"SV4":-64.9,"SV5":-66.5,"SV6":-68.2},
{"f":39.0,"SV1":-53.8,"SV2":-59.2,"SV3":-63.0,"SV4":-64.8,"SV5":-66.4,"SV6":-68.1},
{"f":39.3,"SV1":-50.8,"SV2":-59.0,"SV3":-63.2,"SV4":-64.9,"SV5":-66.5,"SV6":-68.2},
{"f":39.6,"SV1":-53.5,"SV2":-59.4,"SV3":-62.9,"SV4":-64.6,"SV5":-66.2,"SV6":-67.9},
{"f":39.9,"SV1":-52.3,"SV2":-58.8,"SV3":-63.1,"SV4":-64.8,"SV5":-66.4,"SV6":-68.1},
{"f":40.0,"SV1":-53.2,"SV2":-59.1,"SV3":-63.0,"SV4":-64.7,"SV5":-66.3,"SV6":-68.0},
{"f":15.55,"SV1":-54.0,"SV2":-59.0,"SV3":-62.3,"SV4":-64.5,"SV5":-66.7,"SV6":-68.8},
{"f":15.85,"SV1":-56.2,"SV2":-61.6,"SV3":-64.0,"SV4":-66.2,"SV5":-68.3,"SV6":-70.4},
{"f":16.15,"SV1":-53.8,"SV2":-60.4,"SV3":-63.5,"SV4":-65.8,"SV5":-67.9,"SV6":-70.0},
{"f":16.45,"SV1":-57.2,"SV2":-62.2,"SV3":-65.0,"SV4":-67.3,"SV5":-69.4,"SV6":-71.5},
{"f":16.75,"SV1":-55.0,"SV2":-61.3,"SV3":-64.4,"SV4":-66.8,"SV5":-68.9,"SV6":-71.0},
{"f":17.05,"SV1":-55.8,"SV2":-63.2,"SV3":-65.7,"SV4":-68.3,"SV5":-70.4,"SV6":-72.5},
{"f":17.35,"SV1":-58.8,"SV2":-62.2,"SV3":-65.1,"SV4":-67.8,"SV5":-69.8,"SV6":-71.9},
{"f":17.65,"SV1":-57.6,"SV2":-64.5,"SV3":-66.4,"SV4":-69.3,"SV5":-71.2,"SV6":-73.3},
{"f":17.95,"SV1":-60.8,"SV2":-63.5,"SV3":-65.7,"SV4":-68.7,"SV5":-70.6,"SV6":-72.7},
{"f":18.22,"SV1":-58.0,"SV2":-64.6,"SV3":-66.2,"SV4":-69.4,"SV5":-71.5,"SV6":-73.6},
{"f":18.48,"SV1":-60.2,"SV2":-61.6,"SV3":-63.9,"SV4":-67.3,"SV5":-69.6,"SV6":-71.7},
{"f":18.72,"SV1":-57.2,"SV2":-62.3,"SV3":-64.2,"SV4":-67.3,"SV5":-69.6,"SV6":-71.7},
{"f":19.2,"SV1":-57.8,"SV2":-60.9,"SV3":-62.8,"SV4":-65.4,"SV5":-67.6,"SV6":-69.7},
{"f":19.45,"SV1":-54.6,"SV2":-61.2,"SV3":-63.7,"SV4":-66.2,"SV5":-68.4,"SV6":-70.5},
{"f":19.72,"SV1":-57.6,"SV2":-59.7,"SV3":-62.7,"SV4":-64.9,"SV5":-67.1,"SV6":-69.2},
{"f":19.98,"SV1":-55.0,"SV2":-60.8,"SV3":-63.6,"SV4":-65.7,"SV5":-67.7,"SV6":-69.8},
{"f":20.22,"SV1":-57.0,"SV2":-60.6,"SV3":-62.5,"SV4":-64.7,"SV5":-66.7,"SV6":-68.7},
{"f":20.52,"SV1":-54.2,"SV2":-59.8,"SV3":-64.0,"SV4":-66.2,"SV5":-68.1,"SV6":-70.1},
{"f":20.85,"SV1":-57.4,"SV2":-62.1,"SV3":-63.5,"SV4":-65.6,"SV5":-67.5,"SV6":-69.5},
{"f":21.15,"SV1":-54.0,"SV2":-60.6,"SV3":-64.6,"SV4":-66.6,"SV5":-68.5,"SV6":-70.5},
{"f":21.45,"SV1":-57.6,"SV2":-62.4,"SV3":-63.8,"SV4":-65.8,"SV5":-67.7,"SV6":-69.7},
{"f":21.75,"SV1":-54.2,"SV2":-61.4,"SV3":-65.2,"SV4":-67.3,"SV5":-69.2,"SV6":-71.2},
{"f":22.05,"SV1":-57.4,"SV2":-62.9,"SV3":-64.4,"SV4":-66.5,"SV5":-68.4,"SV6":-70.4},
{"f":22.36,"SV1":-57.0,"SV2":-62.4,"SV3":-65.4,"SV4":-67.6,"SV5":-69.5,"SV6":-71.5},
{"f":22.65,"SV1":-55.0,"SV2":-62.0,"SV3":-64.7,"SV4":-66.7,"SV5":-68.6,"SV6":-70.6},
{"f":22.95,"SV1":-54.8,"SV2":-63.7,"SV3":-65.9,"SV4":-68.0,"SV5":-69.9,"SV6":-71.9},
{"f":23.22,"SV1":-57.8,"SV2":-62.6,"SV3":-64.7,"SV4":-66.9,"SV5":-68.8,"SV6":-70.8},
{"f":23.48,"SV1":-56.0,"SV2":-63.9,"SV3":-65.9,"SV4":-68.1,"SV5":-70.0,"SV6":-72.0},
{"f":23.75,"SV1":-61.0,"SV2":-63.4,"SV3":-65.6,"SV4":-67.7,"SV5":-69.6,"SV6":-71.6},
{"f":24.05,"SV1":-59.8,"SV2":-65.7,"SV3":-67.1,"SV4":-69.2,"SV5":-71.1,"SV6":-73.1},
{"f":24.35,"SV1":-63.6,"SV2":-64.8,"SV3":-66.6,"SV4":-68.7,"SV5":-70.6,"SV6":-72.6},
{"f":24.65,"SV1":-61.8,"SV2":-66.9,"SV3":-68.1,"SV4":-70.2,"SV5":-72.1,"SV6":-74.1},
{"f":25.05,"SV1":-62.0,"SV2":-66.0,"SV3":-67.6,"SV4":-69.6,"SV5":-71.5,"SV6":-73.4},
{"f":25.35,"SV1":-63.8,"SV2":-68.0,"SV3":-69.2,"SV4":-71.1,"SV5":-72.9,"SV6":-74.7},
{"f":25.65,"SV1":-61.0,"SV2":-66.6,"SV3":-68.4,"SV4":-70.3,"SV5":-72.1,"SV6":-73.9},
{"f":25.95,"SV1":-64.5,"SV2":-68.2,"SV3":-69.4,"SV4":-71.5,"SV5":-73.3,"SV6":-75.0},
{"f":26.25,"SV1":-60.8,"SV2":-66.4,"SV3":-68.3,"SV4":-70.4,"SV5":-72.2,"SV6":-73.9},
{"f":26.55,"SV1":-63.8,"SV2":-67.7,"SV3":-69.1,"SV4":-71.2,"SV5":-73.0,"SV6":-74.7},
{"f":26.85,"SV1":-62.2,"SV2":-65.4,"SV3":-67.7,"SV4":-69.9,"SV5":-71.7,"SV6":-73.4},
{"f":27.15,"SV1":-60.0,"SV2":-66.9,"SV3":-68.6,"SV4":-70.8,"SV5":-72.5,"SV6":-74.2},
{"f":27.45,"SV1":-60.2,"SV2":-65.4,"SV3":-67.5,"SV4":-69.5,"SV5":-71.2,"SV6":-72.9},
{"f":27.75,"SV1":-63.0,"SV2":-66.7,"SV3":-68.3,"SV4":-70.3,"SV5":-72.0,"SV6":-73.7},
{"f":28.05,"SV1":-60.0,"SV2":-64.8,"SV3":-67.1,"SV4":-69.0,"SV5":-70.7,"SV6":-72.4},
{"f":28.32,"SV1":-62.5,"SV2":-66.1,"SV3":-68.0,"SV4":-69.8,"SV5":-71.5,"SV6":-73.2},
{"f":28.77,"SV1":-59.6,"SV2":-64.0,"SV3":-66.5,"SV4":-68.5,"SV5":-70.2,"SV6":-71.9},
{"f":29.05,"SV1":-60.3,"SV2":-65.4,"SV3":-67.3,"SV4":-69.3,"SV5":-71.0,"SV6":-72.7},
{"f":29.35,"SV1":-62.8,"SV2":-63.3,"SV3":-66.0,"SV4":-68.0,"SV5":-69.7,"SV6":-71.4},
{"f":29.65,"SV1":-62.4,"SV2":-64.4,"SV3":-66.7,"SV4":-68.8,"SV5":-70.4,"SV6":-72.1},
{"f":29.95,"SV1":-59.6,"SV2":-62.6,"SV3":-65.4,"SV4":-67.6,"SV5":-69.3,"SV6":-71.0},
{"f":30.35,"SV1":-59.4,"SV2":-62.8,"SV3":-64.9,"SV4":-67.2,"SV5":-68.8,"SV6":-70.5},
{"f":30.65,"SV1":-57.0,"SV2":-61.4,"SV3":-64.3,"SV4":-66.3,"SV5":-67.9,"SV6":-69.6},
{"f":30.95,"SV1":-60.2,"SV2":-62.8,"SV3":-65.4,"SV4":-67.3,"SV5":-68.9,"SV6":-70.6},
{"f":31.25,"SV1":-57.4,"SV2":-61.2,"SV3":-64.4,"SV4":-66.3,"SV5":-67.9,"SV6":-69.6},
{"f":31.55,"SV1":-60.0,"SV2":-62.6,"SV3":-65.3,"SV4":-67.3,"SV5":-68.9,"SV6":-70.6},
{"f":31.85,"SV1":-57.0,"SV2":-60.9,"SV3":-64.2,"SV4":-66.2,"SV5":-67.8,"SV6":-69.5},
{"f":32.15,"SV1":-59.6,"SV2":-62.3,"SV3":-65.1,"SV4":-67.1,"SV5":-68.7,"SV6":-70.4},
{"f":32.45,"SV1":-56.4,"SV2":-60.7,"SV3":-64.0,"SV4":-66.0,"SV5":-67.6,"SV6":-69.3},
{"f":32.75,"SV1":-58.8,"SV2":-62.1,"SV3":-64.9,"SV4":-66.9,"SV5":-68.5,"SV6":-70.2},
{"f":33.05,"SV1":-55.6,"SV2":-60.4,"SV3":-63.8,"SV4":-65.8,"SV5":-67.4,"SV6":-69.1},
{"f":33.35,"SV1":-57.8,"SV2":-61.8,"SV3":-64.7,"SV4":-66.7,"SV5":-68.3,"SV6":-70.0},
{"f":33.65,"SV1":-54.6,"SV2":-60.0,"SV3":-63.7,"SV4":-65.6,"SV5":-67.2,"SV6":-68.9},
{"f":33.95,"SV1":-56.9,"SV2":-61.5,"SV3":-64.6,"SV4":-66.6,"SV5":-68.2,"SV6":-69.9},
{"f":34.25,"SV1":-53.6,"SV2":-59.9,"SV3":-63.5,"SV4":-65.5,"SV5":-67.1,"SV6":-68.8},
{"f":34.55,"SV1":-56.4,"SV2":-61.4,"SV3":-64.5,"SV4":-66.4,"SV5":-68.0,"SV6":-69.7},
{"f":34.9,"SV1":-56.2,"SV2":-59.6,"SV3":-63.3,"SV4":-65.3,"SV5":-66.9,"SV6":-68.6},
{"f":35.25,"SV1":-56.6,"SV2":-61.1,"SV3":-64.3,"SV4":-66.2,"SV5":-67.8,"SV6":-69.5},
{"f":35.55,"SV1":-54.4,"SV2":-59.4,"SV3":-63.2,"SV4":-65.1,"SV5":-66.7,"SV6":-68.4},
{"f":35.85,"SV1":-57.2,"SV2":-60.9,"SV3":-64.2,"SV4":-66.1,"SV5":-67.7,"SV6":-69.4},
{"f":36.15,"SV1":-54.4,"SV2":-59.3,"SV3":-63.1,"SV4":-65.0,"SV5":-66.6,"SV6":-68.3},
{"f":36.45,"SV1":-56.8,"SV2":-60.8,"SV3":-64.0,"SV4":-65.9,"SV5":-67.5,"SV6":-69.2},
{"f":36.88,"SV1":-55.2,"SV2":-59.0,"SV3":-63.0,"SV4":-64.8,"SV5":-66.4,"SV6":-68.1},
{"f":37.15,"SV1":-54.6,"SV2":-60.7,"SV3":-63.9,"SV4":-65.7,"SV5":-67.3,"SV6":-69.0},
{"f":37.45,"SV1":-52.0,"SV2":-59.0,"SV3":-62.9,"SV4":-64.7,"SV5":-66.3,"SV6":-68.0},
{"f":37.75,"SV1":-54.4,"SV2":-60.4,"SV3":-63.9,"SV4":-65.6,"SV5":-67.2,"SV6":-68.9},
{"f":38.05,"SV1":-51.8,"SV2":-58.8,"SV3":-62.8,"SV4":-64.6,"SV5":-66.2,"SV6":-67.9},
{"f":38.35,"SV1":-54.0,"SV2":-60.1,"SV3":-63.9,"SV4":-65.6,"SV5":-67.2,"SV6":-68.9},
{"f":38.6,"SV1":-53.8,"SV2":-58.8,"SV3":-62.7,"SV4":-64.4,"SV5":-66.0,"SV6":-67.7},
{"f":38.85,"SV1":-51.6,"SV2":-60.2,"SV3":-63.6,"SV4":-65.4,"SV5":-67.0,"SV6":-68.7},
{"f":39.15,"SV1":-54.0,"SV2":-58.3,"SV3":-62.6,"SV4":-64.4,"SV5":-66.0,"SV6":-67.7},
{"f":39.45,"SV1":-52.2,"SV2":-60.0,"SV3":-63.6,"SV4":-65.3,"SV5":-66.9,"SV6":-68.6},
{"f":39.75,"SV1":-54.0,"SV2":-58.3,"SV3":-62.5,"SV4":-64.2,"SV5":-65.8,"SV6":-67.5}
],
"modes": [
{"f":2.61,"top":-8.0,"kind":"mode","hz":"2.61","name":"mode 1-1","lf":2.49,"ly":-6.0},
{"f":2.92,"top":-2.0,"kind":"mode","hz":"2.92","name":"mode 2","lf":2.94,"ly":-1.3},
{"f":3.81,"top":-36.0,"kind":"other","hz":"3.81","name":"","lf":3.81,"ly":-36.0},
{"f":4.83,"top":-45.5,"kind":"other","hz":"4.83","name":"","lf":4.83,"ly":-45.5},
{"f":5.82,"top":-31.5,"kind":"mode","hz":"5.82","name":"mode 6-1","lf":5.63,"ly":-29.6},
{"f":6.84,"top":-45.0,"kind":"mode","hz":"6.84","name":"mode 7","lf":6.67,"ly":-41.3},
{"f":8.55,"top":-45.5,"kind":"mode","hz":"8.55","name":"mode 8","lf":8.38,"ly":-42.8},
{"f":10.75,"top":-52.5,"kind":"other","hz":"10.75","name":"","lf":10.75,"ly":-52.5},
{"f":13.95,"top":-50.0,"kind":"mode","hz":"13.95","name":"mode 9","lf":13.76,"ly":-46.2},
{"f":18.35,"top":-57.5,"kind":"mode","hz":"18.76","name":"mode 10","lf":16.62,"ly":-53.9}
]
},
"layer": [
{
  "data": {"name": "sv"},
  "transform": [{"fold": ["SV1","SV2","SV3","SV4","SV5","SV6"], "as": ["series","value"]}],
  "mark": {"type": "line", "strokeWidth": 1.3},
  "encoding": {
    "x": {"field": "f", "type": "quantitative",
      "scale": {"type": "log", "domain": [1, 40.15], "nice": false},
      "axis": {"values": [1,2,3,4,5,6,7,8,9,10,20,30,40],
        "labelExpr": "datum.value == 1 ? '10⁰' : (datum.value == 10 ? '10¹' : '')",
        "grid": true, "tickSize": -5, "labelPadding": 20, "labelFlush": false, "labelOverlap": false,
        "title": "Frequency [Hz]", "titleY": 75}},
    "y": {"field": "value", "type": "quantitative",
      "scale": {"domain": [-80, 0], "nice": false, "zero": false},
      "axis": {"values": [-80,-70,-60,-50,-40,-30,-20,-10,0], "grid": true, "tickSize": -5, "labelPadding": 18,
        "labelExpr": "datum.value < 0 ? '−' + format(-datum.value, 'd') : format(datum.value, 'd')",
        "labelFlush": false, "labelOverlap": false, "titlePadding": 14,
        "title": "Singular Values of the Power Spectral Density Matrices [dB]"}},
    "color": {"field": "series", "type": "nominal",
      "scale": {"domain": ["SV1","SV2","SV3","SV4","SV5","SV6"], "range": ["#000000","#6c6c6c","#b0b0b0","#c6c6c6","#d0d0d0","#dadada"]},
      "legend": {"title": null, "orient": "none", "legendX": 947, "legendY": 363,
        "symbolType": "M-2,0H2", "symbolSize": 400, "symbolStrokeWidth": 1.5,
        "labelFontSize": 19.44, "labelFont": "DejaVu Sans", "labelColor": "black", "labelOffset": 33,
        "rowPadding": 7.4, "padding": 8, "strokeColor": "#cccccc", "fillColor": "white", "cornerRadius": 4}}
  }
},
{
  "data": {"name": "modes"},
  "mark": {"type": "rule", "strokeDash": [5, 2.5], "strokeWidth": 1.2},
  "encoding": {
    "x": {"field": "f", "type": "quantitative"},
    "y": {"field": "top", "type": "quantitative"},
    "y2": {"datum": -80},
    "color": {"condition": {"test": "datum.kind == 'other'", "value": "green"}, "value": "red"}
  }
},
{
  "data": {"name": "modes"},
  "mark": {"type": "text", "angle": -70, "align": "right", "baseline": "middle", "fontSize": 18, "font": "DejaVu Sans", "dx": 1.4, "dy": 3.8},
  "encoding": {
    "x": {"field": "f", "type": "quantitative"},
    "y": {"datum": -83.1},
    "text": {"field": "hz"},
    "color": {"condition": {"test": "datum.kind == 'other'", "value": "green"}, "value": "red"}
  }
},
{
  "data": {"name": "modes"},
  "transform": [{"filter": "datum.kind == 'mode'"}],
  "mark": {"type": "text", "angle": -75, "align": "left", "baseline": "top", "fontSize": 19.5, "font": "DejaVu Sans", "color": "red"},
  "encoding": {
    "x": {"field": "lf", "type": "quantitative"},
    "y": {"field": "ly", "type": "quantitative"},
    "text": {"field": "name"}
  }
}
]
}
